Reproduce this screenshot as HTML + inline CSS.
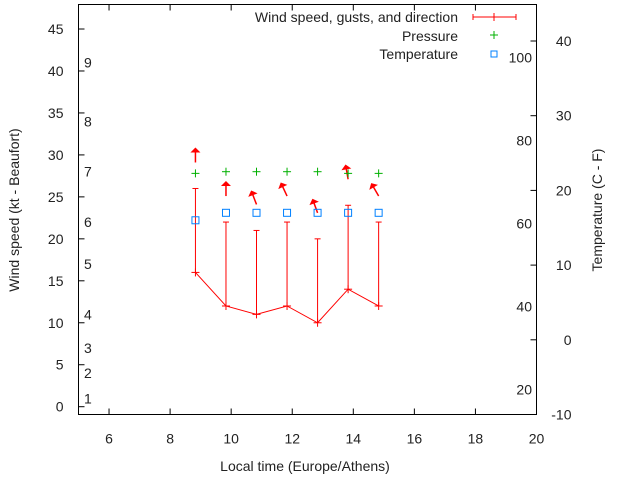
<!DOCTYPE html>
<html><head><meta charset="utf-8"><style>
body{margin:0;background:#fff}
svg text{font-family:"Liberation Sans",sans-serif;font-size:14px;fill:#222}
</style></head><body>
<svg width="640" height="480" viewBox="0 0 640 480" xmlns="http://www.w3.org/2000/svg">
<g id="axes"></g>
<g id="marks"></g>
<g id="legend">
<text x="458" y="22" text-anchor="end">Wind speed, gusts, and direction</text>
<g stroke="red" stroke-width="1"><line x1="473" y1="17" x2="516" y2="17"/><line x1="473" y1="14" x2="473" y2="20"/><line x1="516" y1="14" x2="516" y2="20"/><line x1="494" y1="13" x2="494" y2="21"/></g>
<text x="458" y="41" text-anchor="end">Pressure</text>
<g stroke="#00b000"><line x1="490" y1="35" x2="498" y2="35"/><line x1="494" y1="31" x2="494" y2="39"/></g>
<text x="458" y="59" text-anchor="end">Temperature</text>
<rect x="491" y="51" width="6" height="6" fill="none" stroke="#0080ff"/>
</g>
<text x="305" y="471" text-anchor="middle">Local time (Europe/Athens)</text>
<text transform="translate(19,210) rotate(-90)" text-anchor="middle">Wind speed (kt - Beaufort)</text>
<text transform="translate(602,210) rotate(-90)" text-anchor="middle">Temperature (C - F)</text>
</svg>
<script>
const times=[8.83,9.83,10.83,11.83,12.83,13.83,14.83];
const wind=[16,12,11,12,10,14,12];
const gusts=[26,22,21,22,20,24,22];
const arrowAngle=[0,0,-21,-25,-20,-10,-30];
const pressure=[27.8,28.0,28.0,28.0,28.0,27.8,27.8];
const tempC=[16,17,17,17,17,17,17];
const xTicks=[6,8,10,12,14,16,18,20];
const yTicks=[0,5,10,15,20,25,30,35,40,45];
const y2Ticks=[-10,0,10,20,30,40];
const fTicks=[20,40,60,80,100];
const beaufortNums=[1,2,3,4,5,6,7,8,9];
const beaufortKt=[1,4,7,11,17,22,28,34,41];

const L=78.5,R=536.5,T=4.5,B=414.5;
const X=h=>L+(h-5)*(R-L)/15;
const Y=k=>406.7-k*8.393;
const Y2=c=>B-(c+10)*(B-41)/50;
const NS='http://www.w3.org/2000/svg';
function mk(p,tag,a){const e=document.createElementNS(NS,tag);for(const k in a)e.setAttribute(k,a[k]);p.appendChild(e);return e;}
const ax=document.getElementById('axes'),mg=document.getElementById('marks');
const frame=mk(ax,'rect',{x:L,y:T,width:R-L,height:B-T,fill:'none',stroke:'#000'});


xTicks.forEach(t=>{const x=X(t);
 mk(ax,'line',{x1:x,y1:B,x2:x,y2:B-6,stroke:'#000'});mk(ax,'line',{x1:x,y1:T,x2:x,y2:T+6,stroke:'#000'});
 const tx=mk(ax,'text',{x:x,y:B+29,'text-anchor':'middle'});tx.textContent=t;
 
 });
yTicks.forEach(t=>{const y=Y(t);mk(ax,'line',{x1:L,y1:y,x2:L+6,y2:y,stroke:'#000'});
 const tx=mk(ax,'text',{x:L-15,y:y+5,'text-anchor':'end'});tx.textContent=t;
 
 });
y2Ticks.forEach(t=>{const y=Y2(t);mk(ax,'line',{x1:R,y1:y,x2:R-6,y2:y,stroke:'#000'});
 const tx=mk(ax,'text',{x:R+35,y:y+5,'text-anchor':'end'});tx.textContent=t;
 
 });
fTicks.forEach(f=>{const y=Y2((f-32)*5/9);
 const tx=mk(ax,'text',{x:532,y:y+5,'text-anchor':'end'});tx.textContent=f;
 
 });
beaufortNums.forEach((b,i)=>{const y=Y(beaufortKt[i]);
 const tx=mk(ax,'text',{x:84,y:y+5});tx.textContent=b;
 
 });
// wind line
const pl=mk(mg,'polyline',{points:times.map((t,i)=>X(t)+','+Y(wind[i])).join(' '),fill:'none',stroke:'red'});


times.forEach((t,i)=>{const x=X(t),yw=Y(wind[i]),yg=Y(gusts[i]);
 const g=mk(mg,'g',{stroke:'red',fill:'red'});
 
 
 mk(g,'line',{x1:x,y1:yw,x2:x,y2:yg});mk(g,'line',{x1:x-3,y1:yg,x2:x+3,y2:yg});
 mk(g,'line',{x1:x-4,y1:yw,x2:x+4,y2:yw});mk(g,'line',{x1:x,y1:yw-4,x2:x,y2:yw+4});
 const a=mk(mg,'g',{transform:`translate(${x},${yg-26}) rotate(${arrowAngle[i]})`,stroke:'red',fill:'red'});
 
 
 mk(a,'line',{x1:0,y1:0,x2:0,y2:-12,'stroke-width':1.5});mk(a,'polygon',{points:'-5,-10 5,-10 0,-15',stroke:'none'});
 const yp=Y(pressure[i]);
 const p=mk(mg,'g',{stroke:'#00b000'});
 
 
 mk(p,'line',{x1:x-4,y1:yp,x2:x+4,y2:yp});mk(p,'line',{x1:x,y1:yp-4,x2:x,y2:yp+4});
 const yt=Y2(tempC[i]);
 const r=mk(mg,'rect',{x:x-3.5,y:yt-3.5,width:7,height:7,fill:'none',stroke:'#0080ff'});
 
 
});
</script>
</body></html>
